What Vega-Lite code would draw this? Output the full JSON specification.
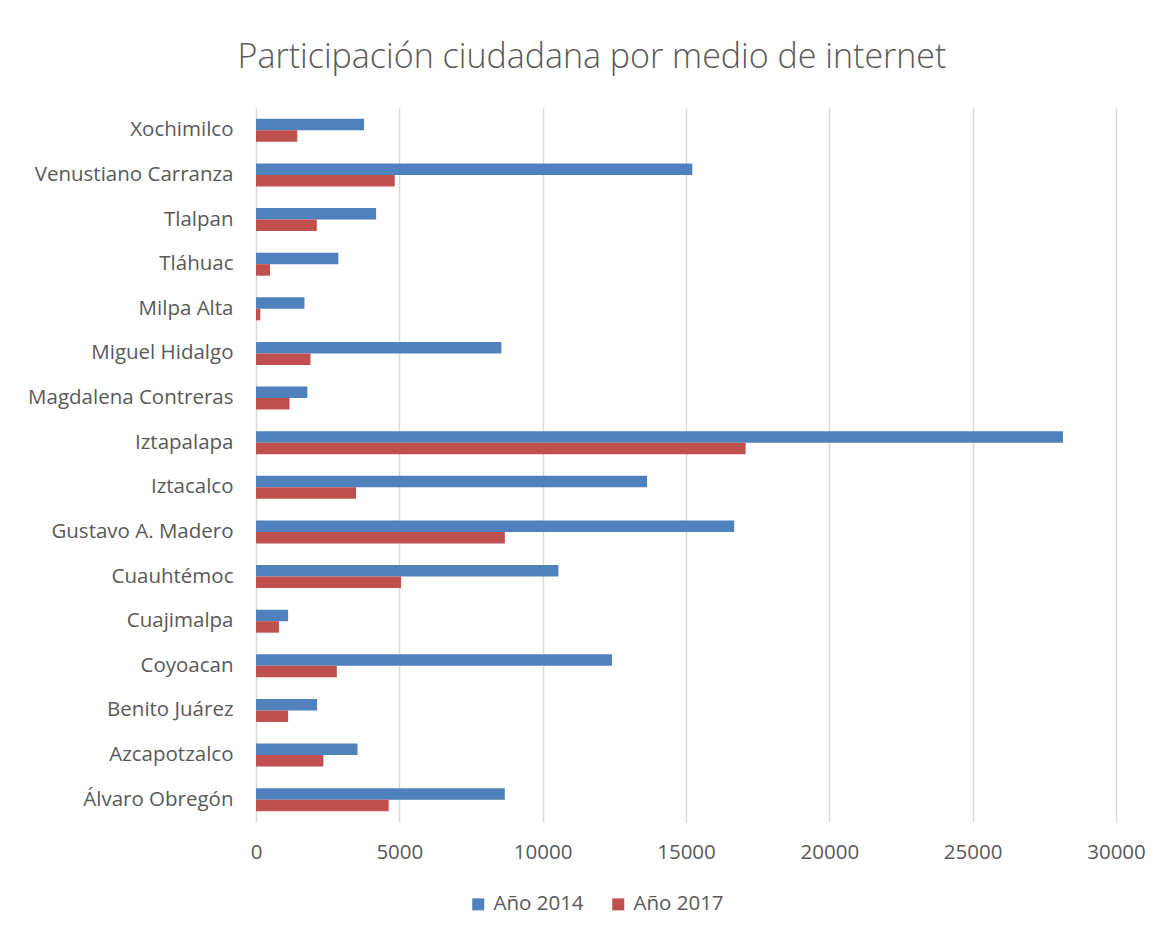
{
  "$schema": "https://vega.github.io/schema/vega-lite/v6.json",
  "autosize": {"type": "none"},
  "width": 860,
  "height": 714,
  "padding": {"left": 256, "top": 108, "right": 51, "bottom": 116},
  "background": "white",
  "title": {
    "text": "Participación ciudadana por medio de internet",
    "font": "Open Sans",
    "fontSize": 34,
    "fontWeight": 300,
    "color": "#595959",
    "anchor": "middle",
    "frame": "group",
    "dx": -94,
    "offset": 33
  },
  "data": {
    "values": [
      {"alcaldia": "Xochimilco", "year": "Año 2014", "valor": 3770},
      {"alcaldia": "Xochimilco", "year": "Año 2017", "valor": 1440},
      {"alcaldia": "Venustiano Carranza", "year": "Año 2014", "valor": 15220},
      {"alcaldia": "Venustiano Carranza", "year": "Año 2017", "valor": 4840},
      {"alcaldia": "Tlalpan", "year": "Año 2014", "valor": 4190},
      {"alcaldia": "Tlalpan", "year": "Año 2017", "valor": 2120},
      {"alcaldia": "Tláhuac", "year": "Año 2014", "valor": 2870},
      {"alcaldia": "Tláhuac", "year": "Año 2017", "valor": 490},
      {"alcaldia": "Milpa Alta", "year": "Año 2014", "valor": 1690},
      {"alcaldia": "Milpa Alta", "year": "Año 2017", "valor": 150},
      {"alcaldia": "Miguel Hidalgo", "year": "Año 2014", "valor": 8560},
      {"alcaldia": "Miguel Hidalgo", "year": "Año 2017", "valor": 1900},
      {"alcaldia": "Magdalena Contreras", "year": "Año 2014", "valor": 1790},
      {"alcaldia": "Magdalena Contreras", "year": "Año 2017", "valor": 1170},
      {"alcaldia": "Iztapalapa", "year": "Año 2014", "valor": 28150},
      {"alcaldia": "Iztapalapa", "year": "Año 2017", "valor": 17080},
      {"alcaldia": "Iztacalco", "year": "Año 2014", "valor": 13640},
      {"alcaldia": "Iztacalco", "year": "Año 2017", "valor": 3490},
      {"alcaldia": "Gustavo A. Madero", "year": "Año 2014", "valor": 16680},
      {"alcaldia": "Gustavo A. Madero", "year": "Año 2017", "valor": 8680},
      {"alcaldia": "Cuauhtémoc", "year": "Año 2014", "valor": 10550},
      {"alcaldia": "Cuauhtémoc", "year": "Año 2017", "valor": 5060},
      {"alcaldia": "Cuajimalpa", "year": "Año 2014", "valor": 1120},
      {"alcaldia": "Cuajimalpa", "year": "Año 2017", "valor": 800},
      {"alcaldia": "Coyoacan", "year": "Año 2014", "valor": 12420},
      {"alcaldia": "Coyoacan", "year": "Año 2017", "valor": 2820},
      {"alcaldia": "Benito Juárez", "year": "Año 2014", "valor": 2130},
      {"alcaldia": "Benito Juárez", "year": "Año 2017", "valor": 1120},
      {"alcaldia": "Azcapotzalco", "year": "Año 2014", "valor": 3540},
      {"alcaldia": "Azcapotzalco", "year": "Año 2017", "valor": 2350},
      {"alcaldia": "Álvaro Obregón", "year": "Año 2014", "valor": 8680},
      {"alcaldia": "Álvaro Obregón", "year": "Año 2017", "valor": 4630}
    ]
  },
  "mark": {"type": "bar"},
  "encoding": {
    "y": {
      "field": "alcaldia",
      "type": "nominal",
      "sort": null,
      "scale": {"paddingInner": 0.485, "paddingOuter": 0.2425},
      "axis": {
        "title": null,
        "ticks": false,
        "domain": false,
        "labelPadding": 23,
        "labelLimit": 400,
        "labelFont": "Open Sans",
        "labelFontSize": 20.5,
        "labelColor": "#595959"
      }
    },
    "yOffset": {"field": "year", "type": "nominal", "sort": ["Año 2014", "Año 2017"]},
    "x": {
      "field": "valor",
      "type": "quantitative",
      "scale": {"domain": [0, 30000], "nice": false},
      "axis": {
        "title": null,
        "values": [0, 5000, 10000, 15000, 20000, 25000, 30000],
        "format": "d",
        "ticks": false,
        "domain": false,
        "grid": true,
        "gridColor": "#d9d9d9",
        "gridWidth": 1.5,
        "labelPadding": 20,
        "labelFont": "Open Sans",
        "labelFontSize": 20.5,
        "labelColor": "#595959",
        "labelFlush": false
      }
    },
    "color": {
      "field": "year",
      "type": "nominal",
      "scale": {"domain": ["Año 2014", "Año 2017"], "range": ["#4F81BD", "#C0504D"]},
      "legend": {
        "title": null,
        "orient": "none",
        "direction": "horizontal",
        "legendX": 212,
        "legendY": 786,
        "symbolType": "square",
        "symbolSize": 144,
        "symbolStrokeWidth": 0,
        "labelFont": "Open Sans",
        "labelFontSize": 20.5,
        "labelColor": "#595959",
        "labelOffset": 5,
        "columnPadding": 24
      }
    }
  },
  "config": {"view": {"stroke": null}}
}
